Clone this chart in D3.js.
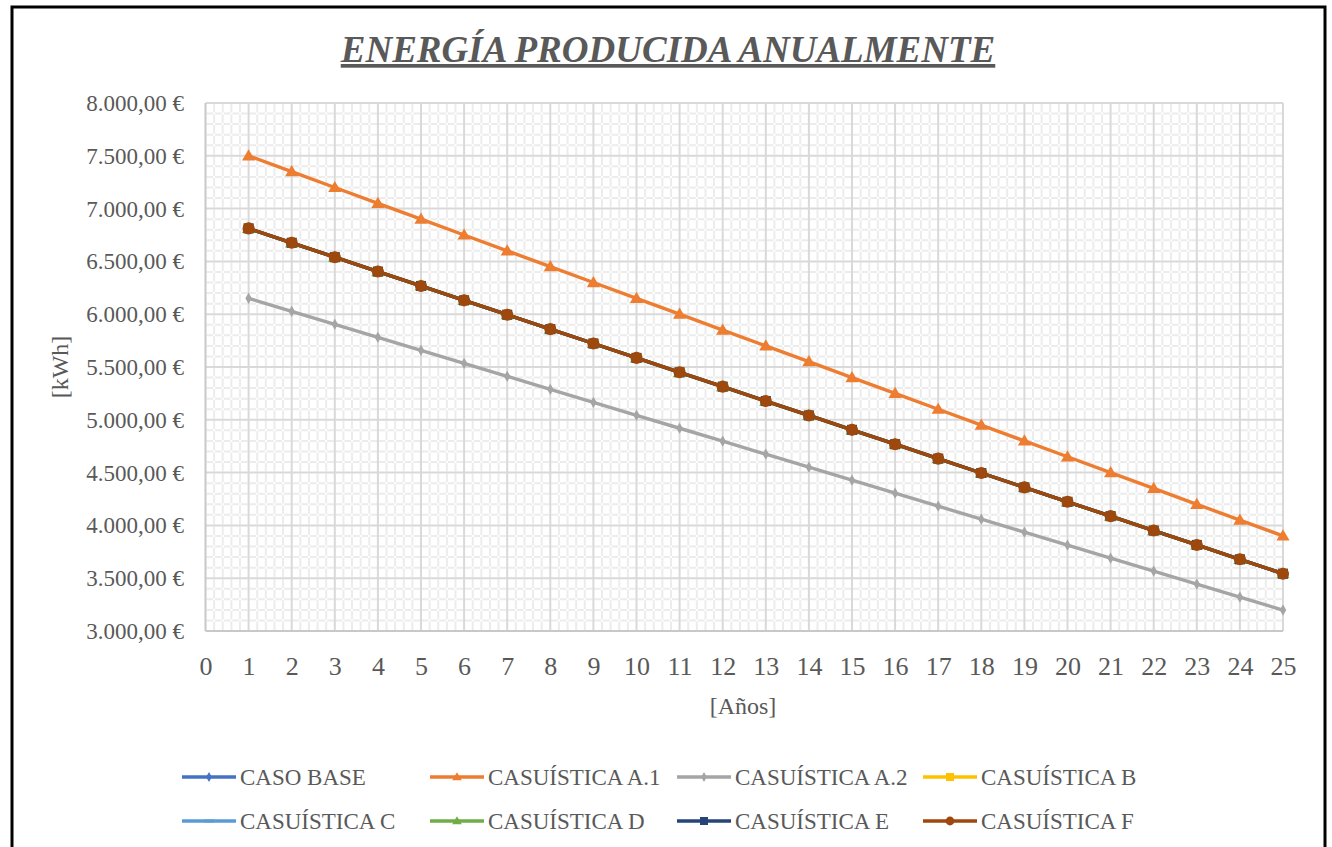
<!DOCTYPE html>
<html>
<head>
<meta charset="utf-8">
<script src="https://cdn.jsdelivr.net/npm/d3@7"></script>
<style>
  html, body { margin: 0; padding: 0; background: #fff; }
  svg { display: block; }
  text { font-family: "Liberation Serif", "Times New Roman", serif; fill: #595959; }
</style>
</head>
<body>
<svg id="chart" width="1332" height="847"></svg>
<script>
// Years on the horizontal axis
const years = [1, 2, 3, 4, 5, 6, 7, 8, 9, 10, 11, 12, 13, 14, 15, 16, 17, 18, 19, 20, 21, 22, 23, 24, 25];

// Annual energy per scenario
const casoBase = [6812.5, 6676.25, 6540, 6403.75, 6267.5, 6131.25, 5995, 5858.75, 5722.5, 5586.25, 5450, 5313.75, 5177.5, 5041.25, 4905, 4768.75, 4632.5, 4496.25, 4360, 4223.75, 4087.5, 3951.25, 3815, 3678.75, 3542.5];
const casA1 = [7500, 7350, 7200, 7050, 6900, 6750, 6600, 6450, 6300, 6150, 6000, 5850, 5700, 5550, 5400, 5250, 5100, 4950, 4800, 4650, 4500, 4350, 4200, 4050, 3900];
const casA2 = [6150, 6027, 5904, 5781, 5658, 5535, 5412, 5289, 5166, 5043, 4920, 4797, 4674, 4551, 4428, 4305, 4182, 4059, 3936, 3813, 3690, 3567, 3444, 3321, 3198];
const casB = casoBase.slice();
const casC = casoBase.slice();
const casD = casoBase.slice();
const casE = casoBase.slice();
const casF = casoBase.slice();

const seriesNames = ["CASO BASE", "CASUÍSTICA A.1", "CASUÍSTICA A.2", "CASUÍSTICA B",
                     "CASUÍSTICA C", "CASUÍSTICA D", "CASUÍSTICA E", "CASUÍSTICA F"];
const seriesValues = [casoBase, casA1, casA2, casB, casC, casD, casE, casF];
const seriesColors = ["#4472C4", "#ED7D31", "#A5A5A5", "#FFC000", "#5B9BD5", "#70AD47", "#264478", "#9E480E"];
const seriesMarkers = ["diamond", "triangle", "diamond", "square", "dash", "triangle", "square", "circle"];

const yTicks = [3000, 3500, 4000, 4500, 5000, 5500, 6000, 6500, 7000, 7500, 8000];
const xTicks = [0, 1, 2, 3, 4, 5, 6, 7, 8, 9, 10, 11, 12, 13, 14, 15, 16, 17, 18, 19, 20, 21, 22, 23, 24, 25];

const svg = d3.select("#chart");

// Outer frame
svg.append("rect").attr("x", 12).attr("y", 7).attr("width", 1313).attr("height", 860)
  .attr("fill", "#fff").attr("stroke", "#000").attr("stroke-width", 3);

const plot = { left: 205.5, right: 1283, top: 103, bottom: 631 };
const x = d3.scaleLinear().domain([0, 25]).range([plot.left, plot.right]);
const y = d3.scaleLinear().domain([3000, 8000]).range([plot.bottom, plot.top]);

// Minor grid (5 subdivisions per major step), gaps left at crossings
const g = svg.append("g");
const minorX = d3.range(0, 25, 0.2).filter(v => Math.abs(v - Math.round(v)) > 1e-6);
const minorY = d3.range(3000, 8000, 100).filter(v => v % 500 !== 0);
const stepY = y(3000) - y(3100);
const stepX = x(0.2) - x(0);
g.selectAll(".mx").data(minorX).join("line")
  .attr("x1", d => x(d)).attr("x2", d => x(d))
  .attr("y1", plot.bottom).attr("y2", plot.top)
  .attr("stroke", "#ececec").attr("stroke-width", 2)
  .attr("stroke-dasharray", `${stepY - 2},2`).attr("stroke-dashoffset", -1);
g.selectAll(".my").data(minorY).join("line")
  .attr("x1", plot.left).attr("x2", plot.right)
  .attr("y1", d => y(d)).attr("y2", d => y(d))
  .attr("stroke", "#ececec").attr("stroke-width", 2)
  .attr("stroke-dasharray", `${stepX - 2},2`).attr("stroke-dashoffset", -1);

// Major grid
g.selectAll(".Mx").data(xTicks.slice(1)).join("line")
  .attr("x1", d => x(d)).attr("x2", d => x(d))
  .attr("y1", plot.bottom).attr("y2", plot.top)
  .attr("stroke", "#d9d9d9").attr("stroke-width", 2);
g.selectAll(".My").data(yTicks.slice(1)).join("line")
  .attr("x1", plot.left).attr("x2", plot.right)
  .attr("y1", d => y(d)).attr("y2", d => y(d))
  .attr("stroke", "#d9d9d9").attr("stroke-width", 2);

// Axis lines
svg.append("line").attr("x1", plot.left).attr("x2", plot.left).attr("y1", plot.top).attr("y2", plot.bottom)
  .attr("stroke", "#c8c8c8").attr("stroke-width", 2);
svg.append("line").attr("x1", plot.left).attr("x2", plot.right).attr("y1", plot.bottom).attr("y2", plot.bottom)
  .attr("stroke", "#c8c8c8").attr("stroke-width", 2);

// Axis labels
const fmt = v => d3.format(",.2f")(v).replace(/,/g, "#").replace(".", ",").replace(/#/g, ".") + " €";
const yAxis = d3.axisLeft(y).tickValues(yTicks).tickSize(0).tickPadding(0).tickFormat(fmt);
const ya = svg.append("g").attr("transform", `translate(${184},0)`).call(yAxis);
ya.select(".domain").remove();
ya.selectAll("text").style("font-size", "23px").attr("fill", "#595959")
  .style("font-family", "'Liberation Serif', serif").attr("dy", "0.33em");

const xAxis = d3.axisBottom(x).tickValues(xTicks).tickSize(0).tickPadding(0).tickFormat(d3.format("d"));
const xa = svg.append("g").attr("transform", `translate(0,${675})`).call(xAxis);
xa.select(".domain").remove();
xa.selectAll("text").style("font-size", "26px").attr("fill", "#595959")
  .style("font-family", "'Liberation Serif', serif").attr("y", 0).attr("dy", "0");

// Titles
svg.append("text").attr("x", 668).attr("y", 62).attr("text-anchor", "middle")
  .style("font-size", "37px").style("font-weight", "bold").style("font-style", "italic")
  .style("text-decoration", "underline").text("ENERGÍA PRODUCIDA ANUALMENTE");
svg.append("text").attr("transform", "translate(60,367) rotate(-90)").attr("text-anchor", "middle")
  .attr("dy", "0.35em").style("font-size", "24px").text("[kWh]");
svg.append("text").attr("x", 743).attr("y", 714).attr("text-anchor", "middle")
  .style("font-size", "24px").text("[Años]");

// Marker shapes
function drawMarker(sel, type, color, size) {
  if (type === "circle") {
    sel.append("circle").attr("r", size * 0.55).attr("fill", color);
  } else if (type === "square") {
    sel.append("rect").attr("x", -size * 0.5).attr("y", -size * 0.5)
      .attr("width", size).attr("height", size).attr("fill", color);
  } else if (type === "diamond") {
    sel.append("path").attr("d", d3.symbol().type(d3.symbolDiamond).size(size * size * 0.45)()).attr("fill", color);
  } else if (type === "triangle") {
    const s = size * 0.6;
    sel.append("path").attr("d", `M0,${-s} L${s},${s * 0.7} L${-s},${s * 0.7} Z`).attr("fill", color);
  } else if (type === "dash") {
    sel.append("rect").attr("x", -size * 0.5).attr("y", -1.5).attr("width", size).attr("height", 3).attr("fill", color);
  }
}

// Series lines and markers
const line = d3.line().x((d, i) => x(years[i])).y(d => y(d));
seriesValues.forEach((vals, si) => {
  const sg = svg.append("g");
  sg.append("path").datum(vals).attr("d", line).attr("fill", "none")
    .attr("stroke", seriesColors[si]).attr("stroke-width", 3.4).attr("stroke-linejoin", "round");
  const msize = seriesMarkers[si] === "diamond" ? 9 : (seriesMarkers[si] === "square" ? 10 : 11);
  vals.forEach((v, i) => {
    const m = sg.append("g").attr("transform", `translate(${x(years[i])},${y(v)})`);
    drawMarker(m, seriesMarkers[si], seriesColors[si], msize);
  });
});

// Legend
const legendPos = [
  [182, 777], [430, 777], [677, 777], [923, 777],
  [182, 821], [430, 821], [677, 821], [923, 821]
];
seriesNames.forEach((name, i) => {
  const [lx, ly] = legendPos[i];
  const lg = svg.append("g").attr("transform", `translate(${lx},${ly})`);
  lg.append("line").attr("x1", 0).attr("x2", 54).attr("y1", 0).attr("y2", 0)
    .attr("stroke", seriesColors[i]).attr("stroke-width", 3.4);
  const m = lg.append("g").attr("transform", "translate(27,0)");
  drawMarker(m, seriesMarkers[i], seriesColors[i], seriesMarkers[i] === "dash" ? 10 : 8);
  lg.append("text").attr("x", 58).attr("y", 0).attr("dy", "0.35em")
    .style("font-size", "23px").text(name);
});
</script>
</body>
</html>
